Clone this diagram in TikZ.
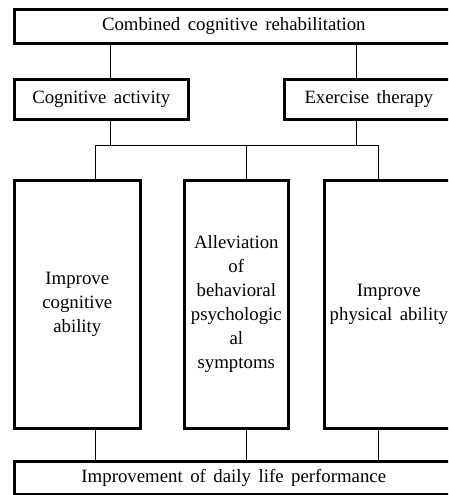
\documentclass[tikz,border=0pt]{standalone}
\usepackage{fontspec}
\setmainfont{Liberation Serif}[WordSpace=1.6]
\begin{document}
\begin{tikzpicture}[x=1pt,y=-1pt,
  box/.style={draw,line width=2.6pt,fill=white,inner sep=0pt,align=center,
    font=\fontsize{18.8}{24}\selectfont},
  conn/.style={line width=0.9pt}]
\useasboundingbox (0,0) rectangle (448,495);
\clip (0,0) rectangle (448,495);
\node[box,minimum width=439,minimum height=34,anchor=north west] (top) at (13,8) {Combined cognitive rehabilitation};
\node[box,minimum width=174,minimum height=40,anchor=north west] (cog) at (13,78) {Cognitive activity};
\node[box,minimum width=169,minimum height=40,anchor=north west] (exe) at (283,78) {Exercise therapy};
\node[box,minimum width=126,minimum height=248,anchor=north west] (b1) at (13,179) {Improve\\cognitive\\ability};
\node[box,minimum width=104,minimum height=248,anchor=north west] (b2) at (183,179) {Alleviation\\of\\behavioral\\psychologic\\al\\symptoms};
\node[box,minimum width=129,minimum height=248,anchor=north west] (b3) at (323,179) {Improve\\physical ability};
\node[box,minimum width=439,minimum height=33,anchor=north west] (bot) at (13,460) {Improvement of daily life performance};
\coordinate (xa) at (110,0);
\coordinate (xb) at (356,0);
\coordinate (x1) at (95,0);
\coordinate (x2) at (246,0);
\coordinate (x3) at (378,0);
\coordinate (bus) at (0,145);
\draw[conn] (top.south -| xa) -- (cog.north -| xa);
\draw[conn] (top.south -| xb) -- (exe.north -| xb);
\draw[conn] (cog.south -| xa) -- (bus -| xa);
\draw[conn] (exe.south -| xb) -- (bus -| xb);
\draw[conn] (bus -| x1) -- (bus -| x3);
\draw[conn] (bus -| x1) -- (b1.north -| x1);
\draw[conn] (bus -| x2) -- (b2.north -| x2);
\draw[conn] (bus -| x3) -- (b3.north -| x3);
\draw[conn] (b1.south -| x1) -- (bot.north -| x1);
\draw[conn] (b2.south -| x2) -- (bot.north -| x2);
\draw[conn] (b3.south -| x3) -- (bot.north -| x3);
\end{tikzpicture}
\end{document}
